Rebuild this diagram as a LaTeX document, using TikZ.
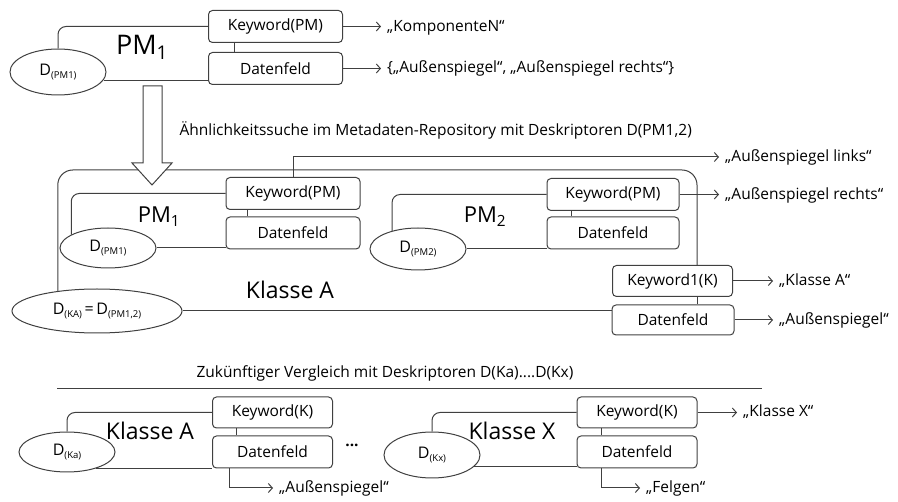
\documentclass[tikz,border=0pt]{standalone}
\usepackage{fontspec}
\setmainfont{Open Sans}
\usetikzlibrary{arrows.meta,shapes.geometric}
\colorlet{lc}{black!75}
\newcommand\dsub[1]{\raisebox{-3.5pt}{\fontsize{9.5}{9}\selectfont #1}}
\begin{document}
\begin{tikzpicture}[x=1pt,y=-1pt,
    font=\fontsize{15.5}{17}\selectfont,
    box/.style={draw=lc,line width=1pt,rounded corners=4pt,minimum width=134pt,minimum height=32pt,inner sep=0pt},
    kbox/.style={box,minimum width=120pt,minimum height=31pt},
    ell/.style={draw=lc,line width=1pt,ellipse,minimum width=96pt,minimum height=42pt,inner sep=0pt,font=\fontsize{16}{17}\selectfont},
    big/.style={font=\fontsize{23}{25}\selectfont},
    val/.style={anchor=west,inner sep=0pt},
    arr/.style={-{Straight Barb[length=4pt,width=9pt]},shorten >=6pt}]
  \useasboundingbox (0,0) rectangle (898,502);
  \node[box] (kw0) at (275.5,26.5) {Keyword(PM)};
  \node[box] (df0) at (275.5,68.5) {Datenfeld};
  \node[ell,minimum height=46pt] (d0) at (58,72) {D\dsub{(PM1)}};
  \node[big,font=\fontsize{27}{29}\selectfont] (pm0) at (142,47) {PM\textsubscript{1}};
  \node[val] (v0) at (387,28) {„KomponenteN“};
  \node[val] (v1) at (387,68) {\{„Außenspiegel“, „Außenspiegel rechts“\}};
  \node[anchor=west] (such) at (176,130) {Ähnlichkeitssuche im Metadaten-Repository mit Deskriptoren D(PM1,2)};
  \node[box] (kw1) at (293,193.5) {Keyword(PM)};
  \node[box] (df1) at (293,233) {Datenfeld};
  \node[ell,minimum height=40pt] (d1) at (108,248) {D\dsub{(PM1)}};
  \node[big,font=\fontsize{22}{24}\selectfont] (pm1) at (159,217) {PM\textsubscript{1}};
  \node[box,minimum width=132pt] (kw2) at (613,194.5) {Keyword(PM)};
  \node[box,minimum width=132pt] (df2) at (613,233) {Datenfeld};
  \node[ell] (d2) at (418,249) {D\dsub{(PM2)}};
  \node[big,font=\fontsize{22}{24}\selectfont] (pm2) at (485,217) {PM\textsubscript{2}};
  \node[kbox] (kwk) at (672.5,281) {Keyword1(K)};
  \node[kbox,minimum width=122pt,minimum height=30pt] (dfk) at (673,320) {Datenfeld};
  \node[ell,minimum width=170pt,minimum height=44pt] (dka) at (97,311) {D\dsub{(KA)}\,=\,D\dsub{(PM1,2)}};
  \node[big] (ka) at (290,290) {Klasse A};
  \node[val] (vl) at (725,157) {„Außenspiegel links“};
  \node[val] (vr) at (725,195) {„Außenspiegel rechts“};
  \node[val] (vka) at (779,281) {„Klasse A“};
  \node[val] (vsp) at (779,320) {„Außenspiegel“};
  \node[anchor=west] (zuk) at (193,373) {Zukünftiger Vergleich mit Deskriptoren D(Ka)....D(Kx)};
  \node[kbox] (kwa) at (272.5,412.5) {Keyword(K)};
  \node[kbox,minimum height=32pt] (dfa) at (272.5,452) {Datenfeld};
  \node[ell,minimum height=40pt] (dKa) at (67,452) {D\dsub{(Ka)}};
  \node[big] (kla) at (150,431) {Klasse A};
  \node (dots) at (352,445) {\textbf{...}};
  \node[kbox] (kwx) at (637,412.5) {Keyword(K)};
  \node[kbox,minimum height=32pt] (dfx) at (637,452) {Datenfeld};
  \node[ell,minimum height=46pt] (dKx) at (432,455) {D\dsub{(Kx)}};
  \node[big] (klx) at (512,431) {Klasse X};
  \node[val] (vkx) at (743,412) {„Klasse X“};
  \node[val] (vsa) at (279,488) {„Außenspiegel“};
  \node[val] (vfe) at (646,488) {„Felgen“};
  \coordinate (ctop) at (697,170);
  \begin{scope}[lc,line width=1pt]
    \draw[rounded corners=8pt] (d0.north) |- (kw0.west);
    \draw (d0.-10) -- (d0.-10 -| df0.west);
    \draw ([xshift=26pt]kw0.south west) -- ([xshift=26pt]df0.north west);
    \draw[arr] (kw0.east) -- (kw0.east -| v0.west);
    \draw[arr] (df0.east) -- (df0.east -| v1.west);
    \draw[rounded corners=15pt] (dka.153) |- (ctop) -- (ctop |- kwk.north);
    \draw (ctop |- kwk.south) -- (ctop |- dfk.north);
    \draw (dka.east) -- (dka.east -| dfk.west);
    \draw[rounded corners=8pt] (d1.160) |- (kw1.west);
    \draw (d1.east) -- (d1.east -| df1.west);
    \draw ([xshift=22pt]kw1.south west) -- ([xshift=22pt]df1.north west);
    \draw[arr] (kw1.north) |- (vl.west);
    \draw[rounded corners=8pt] (d2.145) |- (kw2.west);
    \draw (d2.east) -- (d2.east -| df2.west);
    \draw ([xshift=25pt]kw2.south west) -- ([xshift=25pt]df2.north west);
    \draw[arr] (kw2.east) -- (kw2.east -| vr.west);
    \draw[arr] (kwk.east) -- (kwk.east -| vka.west);
    \draw[arr] (dfk.east) -- (dfk.east -| vsp.west);
    \draw (57,389) -- (762,389);
    \draw[rounded corners=8pt] (dKa.north) |- (kwa.west);
    \draw (dKa.-30) -- (dKa.-30 -| dfa.west);
    \draw ([xshift=24pt]kwa.south west) -- ([xshift=24pt]dfa.north west);
    \draw[arr] ([xshift=17pt]dfa.south west) |- (vsa.west);
    \draw[rounded corners=8pt] (dKx.north) |- (kwx.west);
    \draw (dKx.-15) -- (dKx.-15 -| dfx.west);
    \draw ([xshift=25pt]kwx.south west) -- ([xshift=25pt]dfx.north west);
    \draw[arr] (kwx.east) -- (kwx.east -| vkx.west);
    \draw[arr] ([xshift=25pt]dfx.south west) |- (vfe.west);
    \draw[fill=white] (143,86) -- (143,163) -- (132,163) -- (152,185) -- (172,163) -- (162,163) -- (162,86) -- cycle;
  \end{scope}
\end{tikzpicture}
\end{document}
